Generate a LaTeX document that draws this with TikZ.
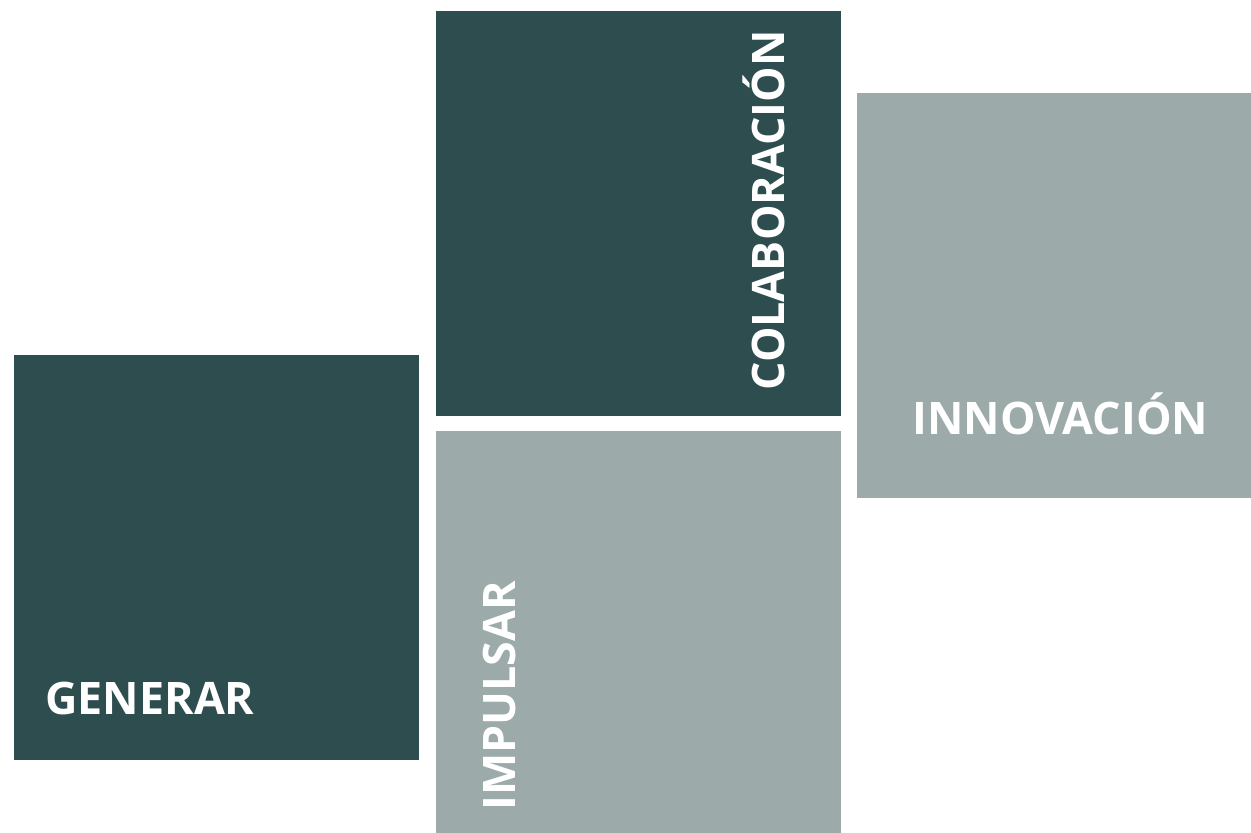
\documentclass[tikz,border=0pt]{standalone}
\usepackage{fontspec}
\setmainfont{Open Sans}
\definecolor{tealdark}{HTML}{2E4D4F}
\definecolor{tealgray}{HTML}{9DAAAA}
\tikzset{x=0.5pt, y=-0.5pt}
\tikzset{box/.style={anchor=north west, inner sep=0pt, outer sep=0pt, minimum width=202.5pt, minimum height=202.5pt},
  word/.style={text=white, font=\fontsize{22.4}{26}\selectfont\bfseries, inner sep=0pt}}
\begin{document}
\begin{tikzpicture}
\useasboundingbox (0,0) rectangle (1251,832);
% squares
\node[box, fill=tealdark] (gen) at (14,355) {};
\node[box, fill=tealdark] (colab) at (436,11) {};
\node[box, fill=tealgray] (impul) at (436,431) {};
\node[box, fill=tealgray] (innov) at (857,93) {};
% labels
\node[word, anchor=base west] (tgen) at (45,714) {GENERAR};
\node[word, anchor=base west, rotate=90] (tcolab) at (784,391) {COLABORACIÓN};
\node[word, anchor=base west, rotate=90] (timpul) at (515,811) {IMPULSAR};
\node[word, anchor=base west] (tinnov) at (912,434) {INNOVACIÓN};
\end{tikzpicture}
\end{document}
